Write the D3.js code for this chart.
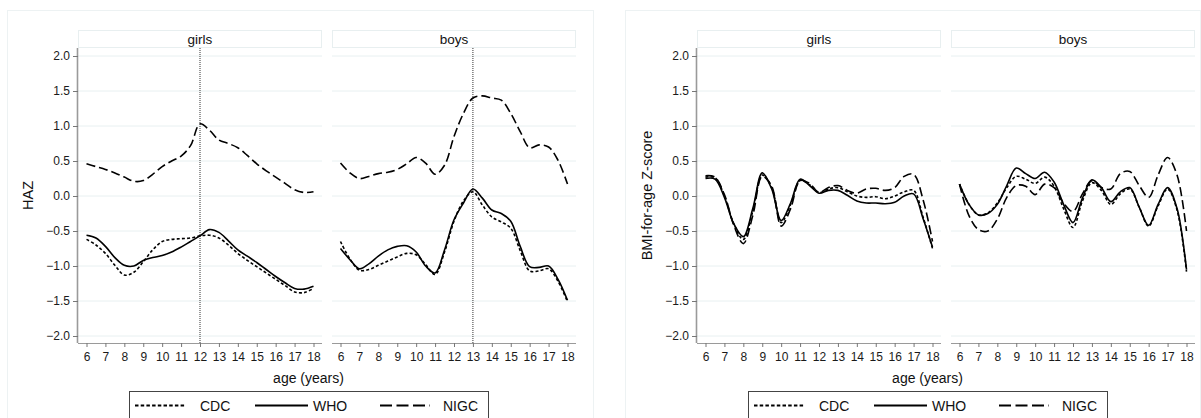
<!DOCTYPE html>
<html lang="en">
<head>
  <meta charset="UTF-8">
  <title>HAZ and BMI-for-age Z-score by age</title>
  <script src="https://d3js.org/d3.v7.min.js"></script>
  <style>
    body { margin: 0; background: #fff; font-family: "Liberation Sans", Arial, sans-serif; }
    svg { display: block; }
  </style>
</head>
<body>
  <svg width="1201" height="418"></svg>
  <script>
    // ages sampled every half year
    const ages = [6, 6.5, 7, 7.5, 8, 8.5, 9, 9.5, 10, 10.5, 11, 11.5, 12, 12.5, 13, 13.5, 14, 14.5, 15, 15.5, 16, 16.5, 17, 17.5, 18];
    const xTicks = [6, 7, 8, 9, 10, 11, 12, 13, 14, 15, 16, 17, 18];
    const yTicks = [-2, -1.5, -1, -0.5, 0, 0.5, 1, 1.5, 2];
    const facets = ["girls", "boys"];
    const references = ["CDC", "WHO", "NIGC"];
    const hazPeakAge = [12, 13]; // girls, boys

    // HAZ
    const hazGirlsCDC  = [-0.62, -0.70, -0.82, -0.99, -1.13, -1.09, -0.94, -0.77, -0.65, -0.62, -0.61, -0.60, -0.57, -0.56, -0.60, -0.70, -0.82, -0.92, -1.01, -1.10, -1.19, -1.28, -1.37, -1.38, -1.32];
    const hazGirlsWHO  = [-0.56, -0.60, -0.72, -0.88, -0.99, -1.00, -0.92, -0.88, -0.85, -0.80, -0.73, -0.65, -0.57, -0.48, -0.52, -0.64, -0.77, -0.86, -0.95, -1.05, -1.15, -1.24, -1.32, -1.33, -1.29];
    const hazGirlsNIGC = [0.46, 0.42, 0.38, 0.33, 0.27, 0.21, 0.22, 0.31, 0.42, 0.50, 0.57, 0.72, 1.03, 0.94, 0.80, 0.75, 0.69, 0.58, 0.46, 0.36, 0.27, 0.18, 0.09, 0.05, 0.06];
    const hazBoysCDC   = [-0.65, -0.90, -1.06, -1.05, -0.99, -0.93, -0.87, -0.82, -0.84, -0.98, -1.12, -0.80, -0.36, -0.07, 0.06, -0.13, -0.30, -0.37, -0.46, -0.78, -1.07, -1.07, -1.04, -1.22, -1.51];
    const hazBoysWHO   = [-0.75, -0.91, -1.04, -0.97, -0.86, -0.77, -0.72, -0.71, -0.80, -1.00, -1.10, -0.77, -0.34, -0.10, 0.10, -0.03, -0.20, -0.25, -0.36, -0.72, -1.01, -1.02, -1.00, -1.19, -1.49];
    const hazBoysNIGC  = [0.47, 0.33, 0.25, 0.28, 0.32, 0.34, 0.38, 0.46, 0.55, 0.47, 0.31, 0.44, 0.85, 1.18, 1.40, 1.43, 1.40, 1.37, 1.18, 0.92, 0.69, 0.73, 0.70, 0.51, 0.17];

    // BMI-for-age
    const bmiGirlsCDC  = [0.27, 0.26, 0.00, -0.40, -0.62, -0.22, 0.30, 0.12, -0.38, -0.12, 0.22, 0.16, 0.05, 0.10, 0.12, 0.06, 0.00, -0.02, -0.01, -0.04, 0.00, 0.06, 0.08, -0.30, -0.75];
    const bmiGirlsWHO  = [0.25, 0.24, -0.02, -0.40, -0.58, -0.18, 0.33, 0.10, -0.35, -0.10, 0.24, 0.15, 0.04, 0.08, 0.08, 0.01, -0.07, -0.10, -0.10, -0.11, -0.09, 0.00, 0.03, -0.32, -0.73];
    const bmiGirlsNIGC = [0.29, 0.27, 0.02, -0.42, -0.68, -0.28, 0.28, 0.14, -0.43, -0.18, 0.22, 0.18, 0.05, 0.12, 0.15, 0.08, 0.04, 0.10, 0.11, 0.08, 0.12, 0.28, 0.31, -0.05, -0.65];
    const bmiBoysCDC   = [0.17, -0.12, -0.27, -0.24, -0.10, 0.12, 0.28, 0.24, 0.18, 0.27, 0.14, -0.18, -0.45, -0.07, 0.19, 0.08, -0.12, 0.03, 0.10, -0.16, -0.43, -0.14, 0.10, -0.20, -1.08];
    const bmiBoysWHO   = [0.17, -0.12, -0.27, -0.25, -0.12, 0.15, 0.40, 0.32, 0.25, 0.34, 0.20, -0.12, -0.38, -0.03, 0.23, 0.12, -0.08, 0.06, 0.12, -0.16, -0.42, -0.12, 0.12, -0.18, -1.05];
    const bmiBoysNIGC  = [0.17, -0.28, -0.48, -0.50, -0.33, -0.02, 0.15, 0.14, 0.02, 0.17, 0.12, -0.10, -0.22, 0.03, 0.22, 0.12, 0.10, 0.32, 0.35, 0.15, -0.02, 0.30, 0.55, 0.30, -0.50];

    const svg = d3.select("svg");

    const dash = { CDC: "3,2.2", WHO: null, NIGC: "9,4" };
    const legendDash = { CDC: "3.5,2.2", WHO: null, NIGC: "12,4.5" };

    const panels = [
      { x0: 78, box: [7, 593], title: "HAZ", titleX: 33, ref: hazPeakAge,
        data: [
          { CDC: hazGirlsCDC, WHO: hazGirlsWHO, NIGC: hazGirlsNIGC },
          { CDC: hazBoysCDC, WHO: hazBoysWHO, NIGC: hazBoysNIGC }
        ] },
      { x0: 697, box: [625, 1200], title: "BMI-for-age Z-score", titleX: 652, ref: null,
        data: [
          { CDC: bmiGirlsCDC, WHO: bmiGirlsWHO, NIGC: bmiGirlsNIGC },
          { CDC: bmiBoysCDC, WHO: bmiBoysWHO, NIGC: bmiBoysNIGC }
        ] }
    ];

    const fw = 244, gap = 10, pad = 8.5;
    const plotTop = 48, plotBottom = 343;
    const y = d3.scaleLinear().domain([-2, 2]).range([336, 56]);

    panels.forEach(p => {
      // outer graph region
      svg.append("rect")
        .attr("x", p.box[0] + 0.5).attr("y", 10.5)
        .attr("width", p.box[1] - p.box[0]).attr("height", 440)
        .attr("fill", "none").attr("stroke", "#edf2f3");

      facets.forEach((f, i) => {
        const left = p.x0 + i * (fw + gap);
        const x = d3.scaleLinear().domain([6, 18]).range([left + pad, left + fw - pad]);
        const g = svg.append("g");

        // header strip
        g.append("rect")
          .attr("x", left + 0.5).attr("y", 30.5)
          .attr("width", fw - 1).attr("height", 17)
          .attr("fill", "#fff").attr("stroke", "#e8eff0");
        g.append("text")
          .attr("x", left + fw / 2).attr("y", 43.5)
          .attr("text-anchor", "middle")
          .style("font-size", "13.5px").attr("fill", "#111")
          .text(f);

        // grid
        g.selectAll("line.grid").data(yTicks).join("line")
          .attr("class", "grid")
          .attr("x1", left).attr("x2", left + fw)
          .attr("y1", d => y(d)).attr("y2", d => y(d))
          .attr("stroke", "#e8f0f1").attr("stroke-width", 1);

        // y axis on first facet only
        if (i === 0) {
          const ya = g.append("g").attr("transform", `translate(${left},0)`)
            .call(d3.axisLeft(y).tickValues(yTicks).tickFormat(d3.format(".1f")).tickSize(5).tickPadding(3));
          ya.select(".domain").attr("d", `M-0.5,${plotTop}V${plotBottom}`).attr("stroke", "#9a9a9a").attr("stroke-width", 1.6);
          ya.selectAll(".tick line").attr("stroke", "#777");
          ya.selectAll(".tick text").style("font-size", "12px").style("font-family", "'Liberation Sans', Arial, sans-serif").attr("fill", "#1a1a1a");
        }

        // x axis
        const xa = g.append("g").attr("transform", `translate(0,${plotBottom})`)
          .call(d3.axisBottom(x).tickValues(xTicks).tickFormat(d3.format("d")).tickSize(4).tickPadding(5));
        xa.select(".domain").attr("d", `M${left},0.5H${left + fw}`).attr("stroke", "#9a9a9a");
        xa.selectAll(".tick line").attr("stroke", "#777");
        xa.selectAll(".tick text").style("font-size", "12px").style("font-family", "'Liberation Sans', Arial, sans-serif").attr("fill", "#1a1a1a");

        // vertical reference at peak age
        if (p.ref) {
          g.append("line")
            .attr("x1", x(p.ref[i])).attr("x2", x(p.ref[i]))
            .attr("y1", plotTop).attr("y2", plotBottom)
            .attr("stroke", "#333").attr("stroke-width", 1)
            .attr("stroke-dasharray", "1,1");
        }

        const line = d3.line()
          .x(d => x(d[0])).y(d => y(d[1]))
          .curve(d3.curveCatmullRom.alpha(0.5));

        references.forEach(r => {
          const vals = p.data[i][r];
          g.append("path")
            .datum(ages.map((a, k) => [a, vals[k]]))
            .attr("d", line)
            .attr("fill", "none")
            .attr("stroke", "#000")
            .attr("stroke-width", 1.6)
            .attr("stroke-dasharray", dash[r]);
        });
      });

      // y title
      svg.append("text")
        .attr("transform", `translate(${p.titleX},${(plotTop + plotBottom) / 2}) rotate(-90)`)
        .attr("text-anchor", "middle")
        .style("font-size", "14.5px").attr("fill", "#111")
        .text(p.title);

      // x title
      const cx = p.x0 + 230.5;
      svg.append("text")
        .attr("x", cx).attr("y", 383)
        .attr("text-anchor", "middle")
        .style("font-size", "14px").attr("fill", "#111")
        .text("age (years)");

      // legend
      const lx = cx - 179.5;
      const lg = svg.append("g").attr("transform", `translate(${lx},391)`);
      lg.append("rect")
        .attr("x", 0.5).attr("y", 0.5).attr("width", 359).attr("height", 40)
        .attr("fill", "#fff").attr("stroke", "#444");
      const items = [[6, 56, 71], [126, 179, 184], [251, 301, 314]];
      references.forEach((r, k) => {
        const [a, b, t] = items[k];
        lg.append("line")
          .attr("x1", a).attr("x2", b).attr("y1", 14.5).attr("y2", 14.5)
          .attr("stroke", "#000").attr("stroke-width", 1.8)
          .attr("stroke-dasharray", legendDash[r]);
        lg.append("text")
          .attr("x", t).attr("y", 20)
          .style("font-size", "14px").attr("fill", "#111")
          .text(r);
      });
    });
  </script>
</body>
</html>
